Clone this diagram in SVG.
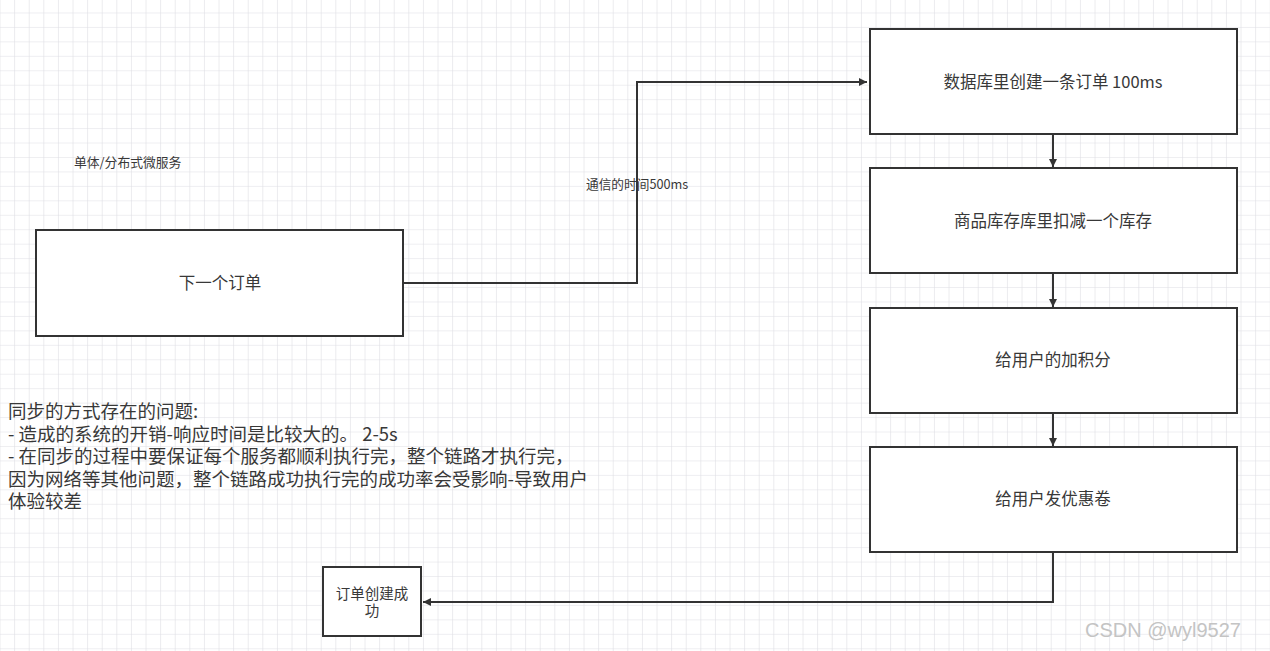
<svg xmlns="http://www.w3.org/2000/svg" width="1270" height="651" viewBox="0 0 1270 651">
<style>
.box{fill:#fff;stroke:#333;stroke-width:2}
.t{font-family:"Noto Sans CJK SC","Liberation Sans",sans-serif;fill:#383838}
.c{text-anchor:middle;font-size:16.5px}
.e{fill:none;stroke:#333;stroke-width:2}
</style>
<defs>
<pattern id="grid" x="0.5" y="-1" width="14.6" height="14.45" patternUnits="userSpaceOnUse">
<path d="M14.6 0V14.45M0 14.45H14.6" fill="none" stroke="#dedee4" stroke-width="1.2"/>
</pattern>
<marker id="arr" viewBox="0 0 10 10" refX="10" refY="5" markerWidth="8" markerHeight="8" markerUnits="userSpaceOnUse" orient="auto">
<path d="M0 0L10 5L0 10z" fill="#333"/>
</marker>
</defs>
<rect width="1270" height="651" fill="#fff"/>
<rect width="1270" height="651" fill="url(#grid)"/>
<g id="connectors">
<path class="e" d="M403 283H637V82H867" marker-end="url(#arr)"/>
<path class="e" d="M1053 134V167" marker-end="url(#arr)"/>
<path class="e" d="M1053 273V307" marker-end="url(#arr)"/>
<path class="e" d="M1053 413V446" marker-end="url(#arr)"/>
<path class="e" d="M1053 552V602H423" marker-end="url(#arr)"/>
<text class="t" x="586" y="189" font-size="12.7">通信的时间500ms</text>
</g>
<g id="label-arch"><text class="t" x="74" y="167" font-size="12.8">单体/分布式微服务</text></g>
<g id="n-order"><rect class="box" x="36" y="230" width="367" height="106"/><text class="t c" x="220" y="289">下一个订单</text></g>
<g id="n-db"><rect class="box" x="870" y="29" width="367" height="105"/><text class="t c" x="1053" y="88">数据库里创建一条订单 100ms</text></g>
<g id="n-stock"><rect class="box" x="870" y="168" width="367" height="105"/><text class="t c" x="1053" y="227">商品库存库里扣减一个库存</text></g>
<g id="n-points"><rect class="box" x="870" y="308" width="367" height="105"/><text class="t c" x="1053" y="366">给用户的加积分</text></g>
<g id="n-coupon"><rect class="box" x="870" y="447" width="367" height="105"/><text class="t c" x="1053" y="505">给用户发优惠卷</text></g>
<g id="n-done"><rect class="box" x="323" y="567" width="98" height="69"/><text class="t" font-size="14.5" text-anchor="middle"><tspan x="372" y="599">订单创建成</tspan><tspan x="372" y="616">功</tspan></text></g>
<g id="note"><text class="t" font-size="18.5">
<tspan x="8" y="418">同步的方式存在的问题:</tspan>
<tspan x="8" y="441">- 造成的系统的开销-响应时间是比较大的。 2-5s</tspan>
<tspan x="8" y="463">- 在同步的过程中要保证每个服务都顺利执行完，整个链路才执行完，</tspan>
<tspan x="8" y="486">因为网络等其他问题，整个链路成功执行完的成功率会受影响-导致用户</tspan>
<tspan x="8" y="508">体验较差</tspan>
</text></g>
<text x="1085" y="637" font-family="Liberation Sans,sans-serif" font-size="20" fill="#c4c4c4">CSDN @wyl9527</text>
</svg>
